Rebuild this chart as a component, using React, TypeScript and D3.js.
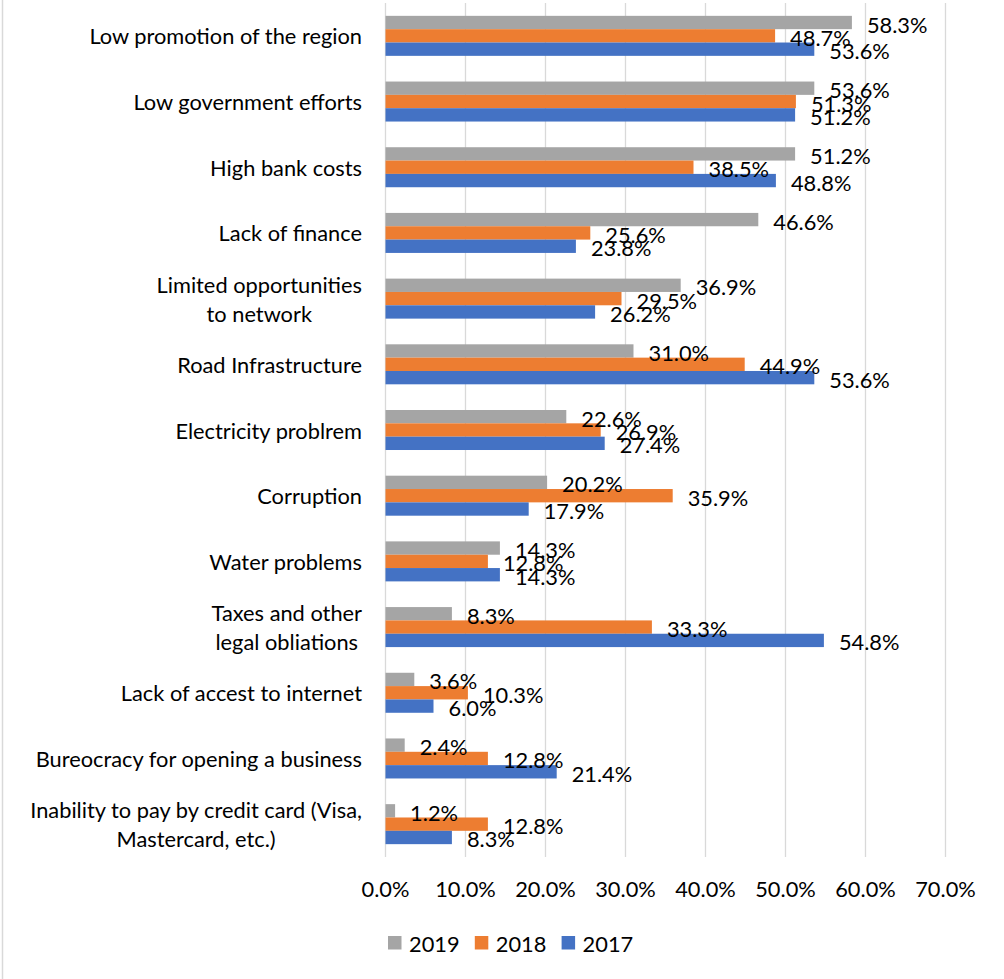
import React from "react";
import * as d3 from "d3";

const categories: string[][] = [
  ["Low promotion of the region"],
  ["Low government efforts"],
  ["High bank costs"],
  ["Lack of finance"],
  ["Limited opportunities", "to network"],
  ["Road Infrastructure"],
  ["Electricity problrem"],
  ["Corruption"],
  ["Water problems"],
  ["Taxes and other", "legal obliations"],
  ["Lack of accest to internet"],
  ["Bureocracy for opening a business"],
  ["Inability to pay by credit card (Visa,", "Mastercard, etc.)"],
];

const series = ["2019", "2018", "2017"];
const colors = ["#A5A5A5", "#ED7D31", "#4472C4"];

const values2019 = [58.3, 53.6, 51.2, 46.6, 36.9, 31.0, 22.6, 20.2, 14.3, 8.3, 3.6, 2.4, 1.2];
const values2018 = [48.7, 51.3, 38.5, 25.6, 29.5, 44.9, 26.9, 35.9, 12.8, 33.3, 10.3, 12.8, 12.8];
const values2017 = [53.6, 51.2, 48.8, 23.8, 26.2, 53.6, 27.4, 17.9, 14.3, 54.8, 6.0, 21.4, 8.3];
const allValues = [values2019, values2018, values2017];

const xTicks = [0, 0.1, 0.2, 0.3, 0.4, 0.5, 0.6, 0.7];

const W = 1004;
const H = 979;
const FONT = "Lato, 'Open Sans', sans-serif";
const FS = 21.8;

export default function App() {
  const x = d3.scaleLinear().domain([0, 0.7]).range([385.5, 945.5]);
  const keys = categories.map((c) => c.join(" "));
  const p = 0.391;
  const y = d3
    .scaleBand<string>()
    .domain(keys)
    .range([3, 857])
    .paddingInner(p)
    .paddingOuter(p / 2);
  const inner = d3.scaleBand<string>().domain(series).range([0, y.bandwidth()]);
  const fmt = d3.format(".1%");

  return (
    <svg
      width={W}
      height={H}
      style={{ position: "absolute", left: 0, top: 0, background: "#fff" }}
      fontFamily={FONT}
    >
      <rect x={0} y={0} width={W} height={H} fill="#fff" />
      <line x1={2.5} x2={2.5} y1={0} y2={H} stroke="#D9D9D9" strokeWidth={1.5} />
      {xTicks.map((t) => (
        <line
          key={"g" + t}
          x1={x(t)}
          x2={x(t)}
          y1={3}
          y2={857}
          stroke="#D9D9D9"
          strokeWidth={1.3}
        />
      ))}
      {keys.map((k, i) =>
        series.map((s, j) => {
          const v = allValues[j][i] / 100;
          const yy = (y(k) as number) + (inner(s) as number);
          const bh = inner.bandwidth();
          return (
            <g key={k + s}>
              <rect x={x(0)} y={yy} width={x(v) - x(0)} height={bh} fill={colors[j]} />
            </g>
          );
        })
      )}
      {keys.map((k, i) =>
        series.map((s, j) => {
          const v = allValues[j][i] / 100;
          const yy = (y(k) as number) + (inner(s) as number);
          const bh = inner.bandwidth();
          return (
            <text
              key={"l" + k + s}
              x={x(v) + 15}
              y={yy + bh / 2 + 1.5}
              dominantBaseline="central"
              fontSize={FS}
              fill="#000"
            >
              {fmt(v)}
            </text>
          );
        })
      )}
      {categories.map((lines, i) => {
        const cy = (y(keys[i]) as number) + y.bandwidth() / 2;
        const lh = 29;
        if (lines.length === 1) {
          return (
            <text
              key={"c" + i}
              x={362}
              y={cy}
              textAnchor="end"
              dominantBaseline="central"
              fontSize={FS}
              fill="#000"
            >
              {lines[0]}
            </text>
          );
        }
        return (
          <CenteredBlock key={"c" + i} lines={lines} right={362} cy={cy} lh={lh} />
        );
      })}
      {xTicks.map((t) => (
        <text
          key={"t" + t}
          x={x(t)}
          y={888}
          textAnchor="middle"
          dominantBaseline="central"
          fontSize={FS}
          fill="#000"
        >
          {fmt(t)}
        </text>
      ))}
      {series.map((s, j) => {
        const lx = 388 + j * 86.8;
        return (
          <g key={"lg" + s}>
            <rect x={lx} y={936} width={13.5} height={13.5} fill={colors[j]} />
            <text x={lx + 21} y={943} dominantBaseline="central" fontSize={FS} fill="#000">
              {s}
            </text>
          </g>
        );
      })}
    </svg>
  );
}

function CenteredBlock({
  lines,
  right,
  cy,
  lh,
}: {
  lines: string[];
  right: number;
  cy: number;
  lh: number;
}) {
  const ref = React.useRef<SVGGElement>(null);
  const [w, setW] = React.useState<number | null>(null);
  React.useLayoutEffect(() => {
    if (!ref.current) return;
    const texts = Array.from(ref.current.querySelectorAll("text")) as SVGTextElement[];
    const mw = d3.max(texts, (t) => t.getComputedTextLength()) || 0;
    setW(mw);
  }, []);
  const cx = w == null ? right : right - w / 2;
  return (
    <g ref={ref}>
      {lines.map((l, i) => (
        <text
          key={i}
          x={cx}
          y={cy + (i - (lines.length - 1) / 2) * lh}
          textAnchor="middle"
          dominantBaseline="central"
          fontSize={FS}
          fill="#000"
        >
          {l}
        </text>
      ))}
    </g>
  );
}
